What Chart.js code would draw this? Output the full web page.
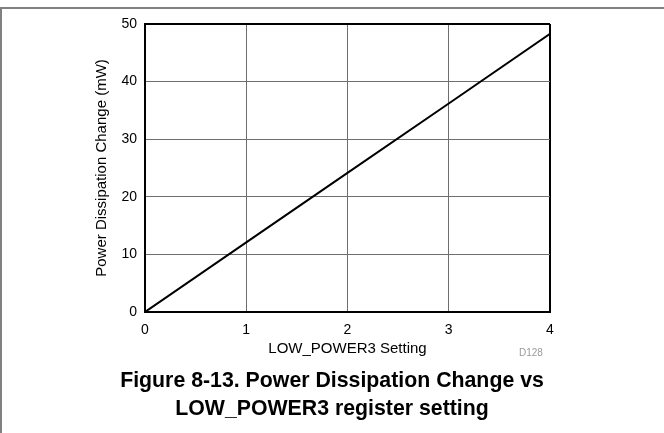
<!DOCTYPE html>
<html>
<head>
<meta charset="utf-8">
<script src="https://cdn.jsdelivr.net/npm/chart.js@4/dist/chart.umd.min.js"></script>
<style>
  html, body { margin: 0; padding: 0; background: #fff; }
  #wrap { position: relative; width: 664px; height: 433px; overflow: hidden; font-family: "Liberation Sans", Arial, sans-serif; }
  #frame { position: absolute; left: 0; top: 7px; width: 664px; height: 426px; border-top: 2px solid #808080; border-left: 2px solid #808080; box-sizing: border-box; }
  #c { position: absolute; left: 0; top: 0; }
  #code { position: absolute; left: 519px; top: 347px; font-size: 10px; color: #9a9a9a; }
  #caption { position: absolute; left: 0; width: 664px; top: 366px; text-align: center; font-weight: bold; font-size: 21.3px; line-height: 28px; color: #000; }
</style>
</head>
<body>
<div id="wrap">
  <div id="frame"></div>
  <canvas id="c" width="664" height="433"></canvas>
  <div id="code">D128</div>
  <div id="caption">Figure 8-13. Power Dissipation Change vs<br>LOW_POWER3 register setting</div>
</div>
<script>
const settings = [0, 1, 2, 3, 4];
const powerChange = [0, 12.1, 24.15, 36.2, 48.3];
const xTicks = [0, 1, 2, 3, 4];
const yTicks = [0, 10, 20, 30, 40, 50];
const xTitle = 'LOW_POWER3 Setting';
const yTitle = 'Power Dissipation Change (mW)';

const FONT = '"Liberation Sans", Arial, sans-serif';
const points = settings.map((s, i) => ({ x: s, y: powerChange[i] }));

const edgeColor = (max) => (ctx) => (ctx.tick && ctx.tick.value === max ? '#000' : '#6e6e6e');
const edgeWidth = (max) => (ctx) => (ctx.tick && ctx.tick.value === max ? 2 : 1);

new Chart(document.getElementById('c'), {
  type: 'scatter',
  data: {
    datasets: [{
      data: points,
      showLine: true,
      borderColor: '#000',
      borderWidth: 2,
      pointRadius: 0,
      tension: 0
    }]
  },
  options: {
    responsive: false,
    animation: false,
    events: [],
    layout: { padding: { left: 90, right: 114, top: 24, bottom: 73 } },
    plugins: { legend: { display: false }, tooltip: { enabled: false } },
    scales: {
      x: {
        type: 'linear',
        min: xTicks[0],
        max: xTicks[xTicks.length - 1],
        afterBuildTicks: (axis) => { axis.ticks = xTicks.map(v => ({ value: v })); },
        afterFit: (axis) => { axis.height = 48; },
        ticks: { color: '#000', font: { family: FONT, size: 14 }, padding: 10 },
        grid: { color: edgeColor(xTicks[xTicks.length - 1]), lineWidth: edgeWidth(xTicks[xTicks.length - 1]), drawTicks: false },
        border: { color: '#000', width: 2 },
        title: { display: true, text: xTitle, color: '#000', font: { family: FONT, size: 15 }, padding: { top: 0, bottom: 2 } }
      },
      y: {
        type: 'linear',
        min: yTicks[0],
        max: yTicks[yTicks.length - 1],
        afterBuildTicks: (axis) => { axis.ticks = yTicks.map(v => ({ value: v })); },
        afterFit: (axis) => { axis.width = 55; },
        ticks: { color: '#000', font: { family: FONT, size: 14 }, padding: 8 },
        grid: { color: edgeColor(yTicks[yTicks.length - 1]), lineWidth: edgeWidth(yTicks[yTicks.length - 1]), drawTicks: false },
        border: { color: '#000', width: 2 },
        title: { display: true, text: yTitle, color: '#000', font: { family: FONT, size: 15 }, padding: { top: 3, bottom: 0 } }
      }
    }
  }
});
</script>
</body>
</html>
